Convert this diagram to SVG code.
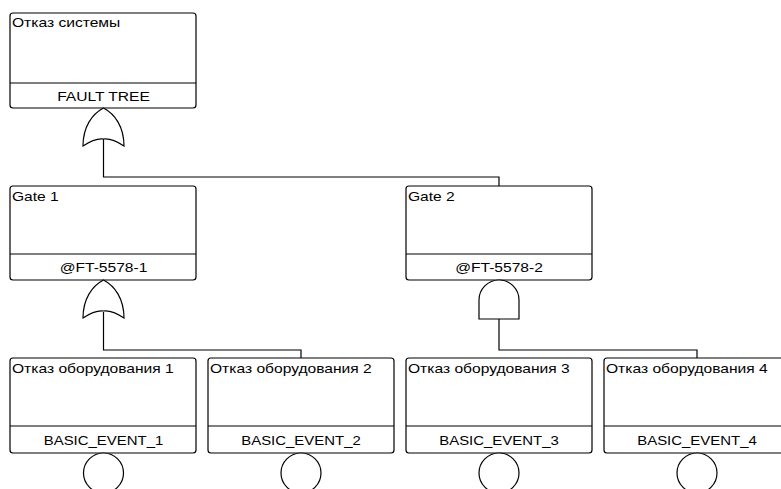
<svg xmlns="http://www.w3.org/2000/svg" width="781" height="489" viewBox="0 0 781 489">
<style>
.box{fill:#fff;stroke:#000;stroke-width:1.2}
.div{stroke:#000;stroke-width:1.2}
.gate{fill:#fff;stroke:#000;stroke-width:1.2}
.conn{fill:none;stroke:#000;stroke-width:1.2}
text{font-family:"Liberation Sans",Arial,sans-serif;font-size:13px;fill:#000}
.c{text-anchor:middle}
</style>
<rect width="781" height="489" fill="#fff"/>
<g id="connectors">
<polyline class="conn" points="103.5,139 103.5,177 499,177 499,186"/>
<polyline class="conn" points="103.5,312 103.5,350 301,350 301,358"/>
<polyline class="conn" points="499,319 499,350 697,350 697,358"/>
</g>
<g id="top">
<rect class="box" x="10" y="13" width="186" height="95" rx="3"/>
<line class="div" x1="10" y1="83" x2="196" y2="83"/>
<text transform="translate(12,27) scale(1.2,1)">Отказ системы</text>
<text class="c" transform="translate(103.5,101) scale(1.2,1)">FAULT TREE</text>
<path class="gate" d="M83,146 C83,127 92,114 103.5,108 C115,114 124,127 124,146 Q112,138 103.5,139 Q95,138 83,146 Z"/>
</g>
<g id="gate1">
<rect class="box" x="10" y="186" width="186" height="94" rx="3"/>
<line class="div" x1="10" y1="254" x2="196" y2="254"/>
<text transform="translate(12,201) scale(1.2,1)">Gate 1</text>
<text class="c" transform="translate(103.5,272) scale(1.2,1)">@FT-5578-1</text>
<path class="gate" d="M83,318 C83,299 92,286 103.5,280 C115,286 124,299 124,318 Q112,310 103.5,311 Q95,310 83,318 Z"/>
</g>
<g id="gate2">
<rect class="box" x="406" y="186" width="186" height="94" rx="3"/>
<line class="div" x1="406" y1="254" x2="592" y2="254"/>
<text transform="translate(408,201) scale(1.2,1)">Gate 2</text>
<text class="c" transform="translate(499,272) scale(1.2,1)">@FT-5578-2</text>
<path class="gate" d="M479,319 V300 A20,20 0 0 1 519,300 V319 Z"/>
</g>
<g id="be1">
<rect class="box" x="10" y="358" width="186" height="95" rx="3"/>
<line class="div" x1="10" y1="426" x2="196" y2="426"/>
<text transform="translate(12,373) scale(1.2,1)">Отказ оборудования 1</text>
<text class="c" transform="translate(103.5,445) scale(1.15,1)">BASIC_EVENT_1</text>
<circle class="gate" cx="103.5" cy="473" r="20"/>
</g>
<g id="be2">
<rect class="box" x="208" y="358" width="186" height="95" rx="3"/>
<line class="div" x1="208" y1="426" x2="394" y2="426"/>
<text transform="translate(210,373) scale(1.2,1)">Отказ оборудования 2</text>
<text class="c" transform="translate(301,445) scale(1.15,1)">BASIC_EVENT_2</text>
<circle class="gate" cx="301" cy="473" r="20"/>
</g>
<g id="be3">
<rect class="box" x="406" y="358" width="186" height="95" rx="3"/>
<line class="div" x1="406" y1="426" x2="592" y2="426"/>
<text transform="translate(408,373) scale(1.2,1)">Отказ оборудования 3</text>
<text class="c" transform="translate(499,445) scale(1.15,1)">BASIC_EVENT_3</text>
<circle class="gate" cx="499" cy="473" r="20"/>
</g>
<g id="be4">
<rect class="box" x="604" y="358" width="186" height="95" rx="3"/>
<line class="div" x1="604" y1="426" x2="790" y2="426"/>
<text transform="translate(606,373) scale(1.2,1)">Отказ оборудования 4</text>
<text class="c" transform="translate(697,445) scale(1.15,1)">BASIC_EVENT_4</text>
<circle class="gate" cx="697" cy="473" r="20"/>
</g>
</svg>
